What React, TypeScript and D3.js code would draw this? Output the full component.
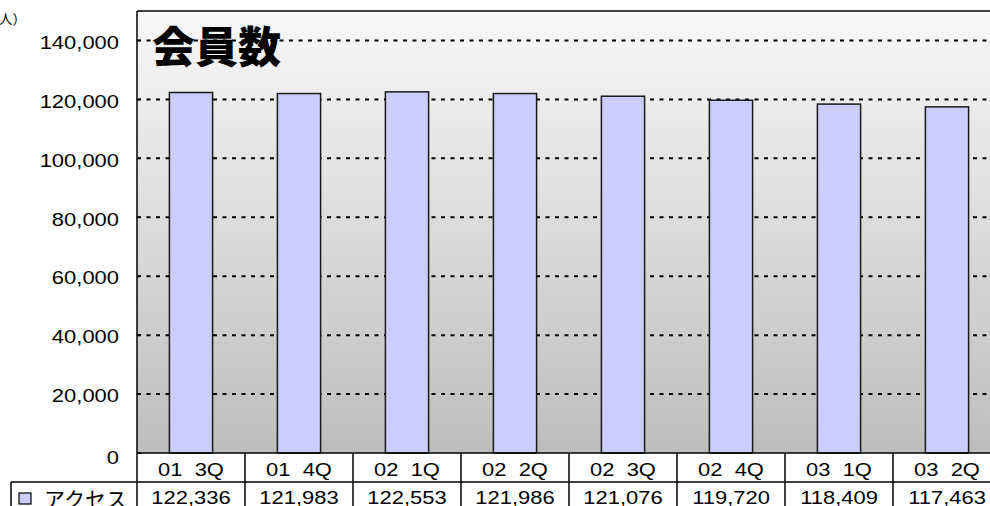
import React from "react";
import * as d3 from "d3";

const categories = ["01 3Q", "01 4Q", "02 1Q", "02 2Q", "02 3Q", "02 4Q", "03 1Q", "03 2Q"];
const members = [122336, 121983, 122553, 121986, 121076, 119720, 118409, 117463];
const yTicks = [0, 20000, 40000, 60000, 80000, 100000, 120000, 140000];
const seriesName = "アクセス";
const chartTitle = "会員数";
const unitLabel = "（人）";

const W = 990;
const H = 506;
const plotLeft = 137;
const plotRight = 1001;
const plotTop = 11;
const plotBottom = 453;
const row1Bottom = 482;
const row2Bottom = 520;

const latin = "'Liberation Sans', Arial, sans-serif";
const cjk = "'Noto Sans CJK JP', 'Noto Sans', sans-serif";

// Latin text in this chart is set in a horizontally widened face
function WideText(props: { x: number; y: number; anchor: "start" | "middle" | "end"; children: React.ReactNode }) {
  return (
    <text
      transform={`translate(${props.x},${props.y}) scale(1.22,1)`}
      textAnchor={props.anchor}
      dominantBaseline="central"
      fontFamily={latin}
      fontSize={18}
      fill="#000"
    >
      {props.children}
    </text>
  );
}

export default function App() {
  const y = d3.scaleLinear().domain([0, 150000]).range([plotBottom, plotTop]);
  const x = d3
    .scaleBand<string>()
    .domain(categories)
    .range([plotLeft, plotRight])
    .paddingInner(0.6)
    .paddingOuter(0.3);
  const col = d3.scaleBand<string>().domain(categories).range([plotLeft, plotRight]);
  const fmt = d3.format(",");

  return (
    <svg
      width={W}
      height={H}
      style={{ position: "absolute", left: 0, top: 0, background: "#fff" }}
    >
      <defs>
        <linearGradient id="plotBg" x1="0" y1="0" x2="0" y2="1">
          <stop offset="0" stopColor="#f8f8f8" />
          <stop offset="1" stopColor="#bdbdbd" />
        </linearGradient>
      </defs>

      {/* plot background */}
      <rect x={plotLeft} y={plotTop} width={plotRight - plotLeft} height={plotBottom - plotTop} fill="url(#plotBg)" />

      {/* dashed gridlines */}
      {yTicks.filter((t) => t > 0).map((t) => (
        <line
          key={t}
          x1={plotLeft}
          x2={plotRight}
          y1={y(t)}
          y2={y(t)}
          stroke="#000"
          strokeWidth={2}
          strokeDasharray="4,5.5"
        />
      ))}

      {/* title */}
      <text
        x={152}
        y={44}
        dominantBaseline="central"
        fontFamily={cjk}
        fontWeight={900}
        fontSize={43}
        fill="#000"
      >
        {chartTitle}
      </text>

      {/* bars */}
      {categories.map((c, i) => (
        <rect
          key={c}
          x={x(c)}
          y={y(members[i])}
          width={x.bandwidth()}
          height={plotBottom - y(members[i])}
          fill="#ccccff"
          stroke="#1a1a1a"
          strokeWidth={1.5}
        />
      ))}

      {/* axis frame */}
      <line x1={plotLeft} x2={plotRight} y1={plotTop} y2={plotTop} stroke="#000" strokeWidth={1.5} />
      <line x1={plotLeft} x2={plotLeft} y1={plotTop} y2={row2Bottom} stroke="#000" strokeWidth={1.5} />
      <line x1={plotLeft} x2={plotRight} y1={plotBottom} y2={plotBottom} stroke="#000" strokeWidth={1.5} />

      {/* y ticks and labels */}
      {yTicks.map((t) => (
        <g key={t}>
          <line x1={plotLeft} x2={plotLeft + 4} y1={y(t)} y2={y(t)} stroke="#000" strokeWidth={1.5} />
          <WideText x={119} y={y(t) + (t === 0 ? 5 : 2)} anchor="end">
            {fmt(t)}
          </WideText>
        </g>
      ))}

      <text x={26} y={18} textAnchor="end" dominantBaseline="central" fontFamily={cjk} fontSize={13.5} fill="#000">
        {unitLabel}
      </text>

      {/* data table */}
      <line x1={11} x2={plotRight} y1={row1Bottom} y2={row1Bottom} stroke="#000" strokeWidth={1.5} />
      <line x1={11} x2={11} y1={row1Bottom} y2={row2Bottom} stroke="#000" strokeWidth={1.5} />
      {categories.map((c, i) => {
        const cx = (col(c) as number) + col.bandwidth() / 2;
        const edge = (col(c) as number) + col.bandwidth();
        return (
          <g key={c}>
            <line x1={edge} x2={edge} y1={plotBottom} y2={row2Bottom} stroke="#000" strokeWidth={1.5} />
            <WideText x={cx} y={470} anchor="middle">
              {c.replace(" ", "\u00a0\u00a0")}
            </WideText>
            <WideText x={cx} y={498} anchor="middle">
              {fmt(members[i])}
            </WideText>
          </g>
        );
      })}

      {/* legend key */}
      <rect x={19} y={493} width={12} height={11} fill="#ccccff" stroke="#000" strokeWidth={1.2} />
      <text x={44} y={498} dominantBaseline="central" fontFamily={cjk} fontSize={21} fill="#000">
        {seriesName}
      </text>
    </svg>
  );
}
